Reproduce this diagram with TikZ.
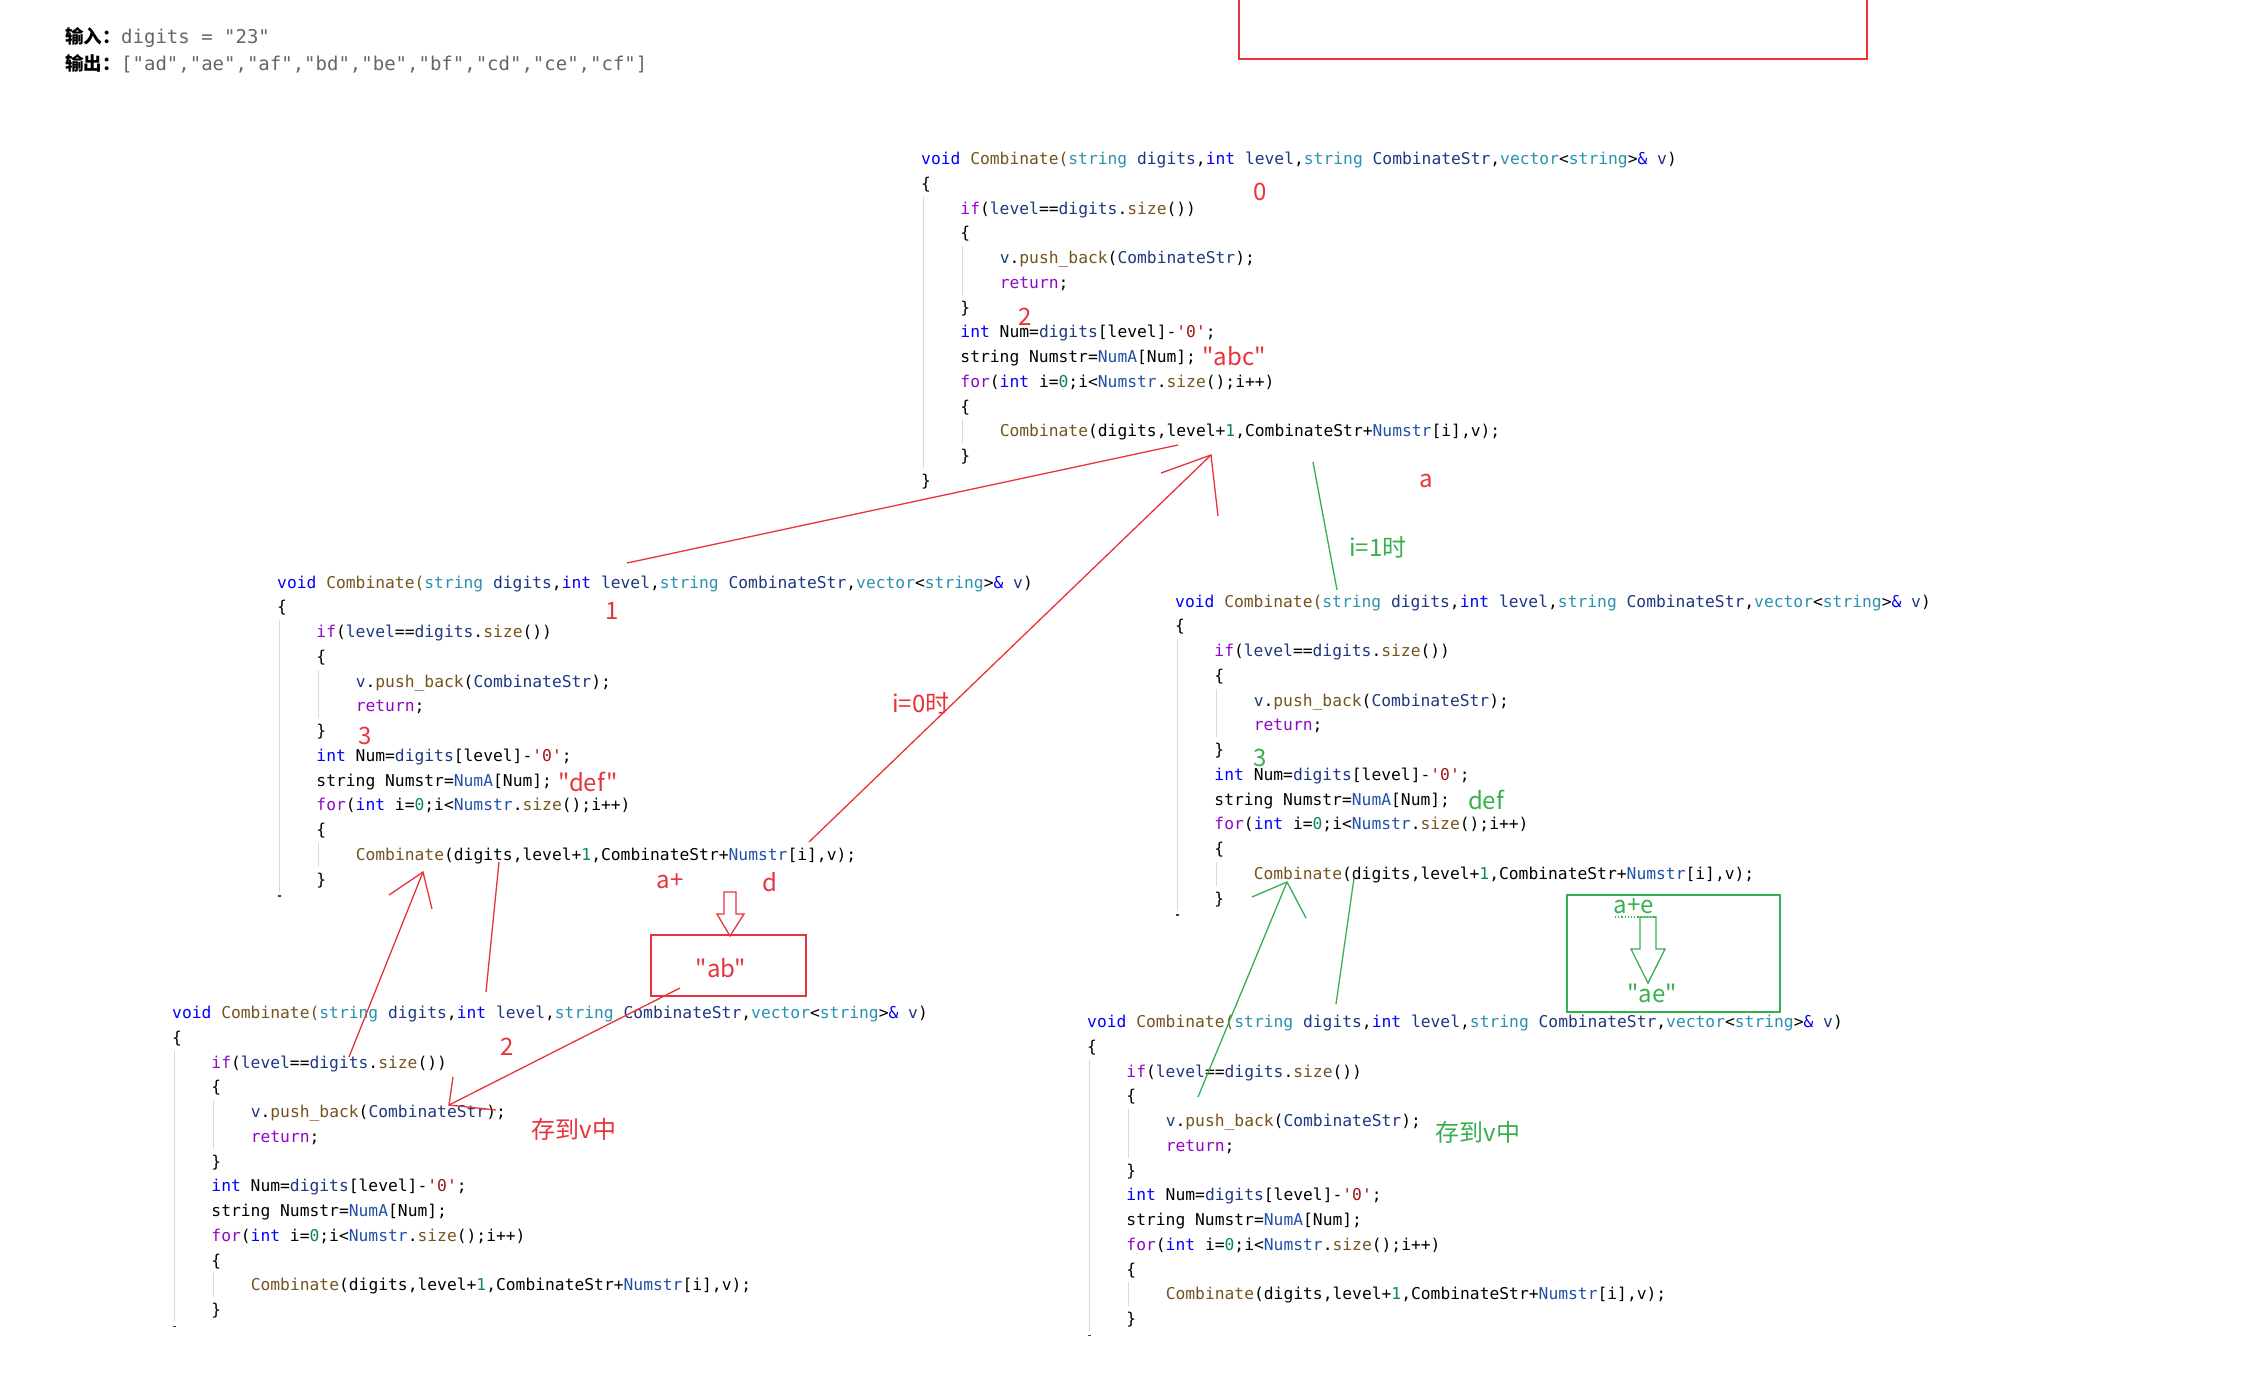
\documentclass[tikz,border=0pt]{standalone}
\usepackage{fontspec}
\setmonofont{DejaVu Sans Mono}
\newfontfamily\cjk{Noto Sans CJK SC}

\definecolor{kwblue}{HTML}{0000FF}
\definecolor{fnbrown}{HTML}{74531F}
\definecolor{tyteal}{HTML}{2B91AF}
\definecolor{parnavy}{HTML}{1F377F}
\definecolor{gvblue}{HTML}{2050A8}
\definecolor{ctlpurple}{HTML}{8F08C4}
\definecolor{strred}{HTML}{A31515}
\definecolor{numgreen}{HTML}{098658}
\definecolor{guidegray}{HTML}{D9D9D9}
\definecolor{markred}{HTML}{E8333A}
\definecolor{markgreen}{HTML}{36B04F}
\definecolor{iogray}{HTML}{666666}

% token colours
\newcommand{\cK}[1]{\textcolor{kwblue}{#1}}
\newcommand{\cF}[1]{\textcolor{fnbrown}{#1}}
\newcommand{\cT}[1]{\textcolor{tyteal}{#1}}
\newcommand{\cP}[1]{\textcolor{parnavy}{#1}}
\newcommand{\cG}[1]{\textcolor{gvblue}{#1}}
\newcommand{\cC}[1]{\textcolor{ctlpurple}{#1}}
\newcommand{\cS}[1]{\textcolor{strred}{#1}}
\newcommand{\cN}[1]{\textcolor{numgreen}{#1}}

\tikzset{
  codeline/.style={anchor=base west, inner sep=0pt, font=\ttfamily\fontsize{16.3}{20}\selectfont},
  guide/.style={draw=guidegray, line width=1pt},
  note/.style={inner sep=0pt, font=\cjk\fontsize{24}{28}\selectfont},
  rednote/.style={note, text=markred},
  greennote/.style={note, text=markgreen},
  redline/.style={draw=markred, line width=1.3pt},
  greenline/.style={draw=markgreen, line width=1.3pt},
}

% one Combinate block: name, origin (header baseline), last line
\newcommand{\codeblock}[3]{%
  \begin{scope}[shift={#2}]
    \draw[guide] (2,32) -- (2,303.5);
    \draw[guide] (41.3,81.5) -- (41.3,130.25);
    \draw[guide] (41.3,254.75) -- (41.3,278.75);
    \node[codeline] (#1-0) at (0,0) {\cK{void} \cF{Combinate(}\cT{string} \cP{digits},\cK{int} \cP{level},\cT{string} \cP{CombinateStr},\cT{vector}<\cT{string}>\cK{\&} \cP{v})};
    \node[codeline] (#1-1) at (0,24.75) {\{};
    \node[codeline] (#1-2) at (39.28,49.5) {\cC{if}(\cP{level}==\cP{digits}.\cF{size}())};
    \node[codeline] (#1-3) at (39.28,74.25) {\{};
    \node[codeline] (#1-4) at (78.56,99) {\cP{v}.\cF{push\_back}(\cP{CombinateStr});};
    \node[codeline] (#1-5) at (78.56,123.75) {\cC{return};};
    \node[codeline] (#1-6) at (39.28,148.5) {\}};
    \node[codeline] (#1-7) at (39.28,173.25) {\cK{int} Num=\cP{digits}[level]-\cS{'0'};};
    \node[codeline] (#1-8) at (39.28,198) {string Numstr=\cG{NumA}[Num];};
    \node[codeline] (#1-9) at (39.28,222.75) {\cC{for}(\cK{int} i=\cN{0};i<\cG{Numstr}.\cF{size}();i++)};
    \node[codeline] (#1-10) at (39.28,247.5) {\{};
    \node[codeline] (#1-11) at (78.56,272.25) {\cF{Combinate}(digits,level+\cN{1},CombinateStr+\cG{Numstr}[i],v);};
    \node[codeline] (#1-12) at (39.28,297) {\}};
    \node[codeline] (#1-13) at (0,321.75) {#3};
  \end{scope}}

\begin{document}
\begin{tikzpicture}[x=1pt, y=-1pt]
  \useasboundingbox[fill=white] (0,0) rectangle (2261,1395);

  % 1. input / output
  \node[anchor=base west, inner sep=0pt, font=\cjk\bfseries\fontsize{18.5}{22}\selectfont] (inlbl) at (65,43) {输入：};
  \node[anchor=base west, inner sep=0pt, font=\ttfamily\fontsize{19}{22}\selectfont, text=iogray] (intxt) at (121,43) {digits = "23"};
  \node[anchor=base west, inner sep=0pt, font=\cjk\bfseries\fontsize{18.5}{22}\selectfont] (outlbl) at (65,70) {输出：};
  \node[anchor=base west, inner sep=0pt, font=\ttfamily\fontsize{19}{22}\selectfont, text=iogray] (outtxt) at (121,70) {["ad","ae","af","bd","be","bf","cd","ce","cf"]};
  \draw[markred, line width=2pt] (1239,-5) rectangle (1867,59);

  % 2. the five calls
  \codeblock{A}{(921,164.5)}{\}}
  \codeblock{B}{(277,588)}{}
  \codeblock{C}{(1175,607)}{}
  \codeblock{D}{(172,1018.5)}{}
  \codeblock{E}{(1087,1027.5)}{}
  \foreach \bx/\by in {277/588, 1175/607, 172/1018.5, 1087/1027.5}
    \draw[black!75, line width=1.2pt] (\bx+1,\by+308) -- (\bx+4,\by+308);

  % 3. red notes: i=0
  \node[rednote] (n0) at (1260,192) {0};
  \node[rednote] (n2a) at (1025,317) {2};
  \node[rednote] (nabc) at (1234,356) {"abc"};
  \node[rednote] (na) at (1426,481) {a};
  \node[rednote] (n1) at (612,611) {1};
  \node[rednote] (n3a) at (365,736) {3};
  \node[rednote] (ndef) at (588,782) {"def"};
  \node[rednote] (ni0) at (921,703) {i=0时};
  \node[rednote] (naplus) at (670,881) {a+};
  \node[rednote] (nd) at (770,882) {d};
  \node[rednote] (n2b) at (507,1047) {2};
  \node[rednote] (nsaveA) at (574,1129) {存到v中};

  \coordinate (callA) at (1178,445);
  \coordinate (headB) at (627,563);
  \draw[redline] (callA) -- (headB);
  \coordinate (tipA) at (1211,455);
  \coordinate (tailB) at (809,842);
  \draw[redline] (tailB) -- (tipA);
  \draw[redline] (1161,473) -- (tipA) -- (1218,516);

  \coordinate (callB) at (499,862);
  \coordinate (headD) at (486,992);
  \draw[redline] (callB) -- (headD);
  \coordinate (tipB) at (423,872);
  \coordinate (tailD) at (349,1057);
  \draw[redline] (tailD) -- (tipB);
  \draw[redline] (389,895) -- (tipB) -- (432,909);

  \draw[markred, line width=1.3pt] (724,892) -- (736,892) -- (736,914) -- (744,914) -- (730,936) -- (717,914) -- (724,914) -- cycle;
  \draw[markred, line width=1.6pt] (651,935) rectangle (806,996);
  \node[rednote] (nab) at (721,968) {"ab"};
  \coordinate (abtail) at (680,988);
  \coordinate (tipD) at (449,1105);
  \draw[redline] (abtail) -- (tipD);
  \draw[redline] (453,1077) -- (tipD) -- (496,1110);

  % 4. green notes: i=1
  \node[greennote] (ni1) at (1378,547) {i=1时};
  \node[greennote] (n3b) at (1260,758) {3};
  \node[greennote] (ndefg) at (1486,800) {def};
  \node[greennote] (nae) at (1634,906) {a+e};
  \node[greennote] (naeq) at (1652,993) {"ae"};
  \node[greennote] (nsaveE) at (1478,1132) {存到v中};

  \coordinate (callA2) at (1313,462);
  \coordinate (headC) at (1337,590);
  \draw[greenline] (callA2) -- (headC);
  \coordinate (callC) at (1354,878);
  \coordinate (headE) at (1336,1004);
  \draw[greenline] (callC) -- (headE);
  \coordinate (tipC) at (1287,882);
  \coordinate (tailE) at (1198,1097);
  \draw[greenline] (tailE) -- (tipC);
  \draw[greenline] (1252,897) -- (tipC) -- (1306,918);

  \draw[markgreen, line width=1.6pt] (1567,895) rectangle (1780,1012);
  \draw[markgreen, line width=1.2pt, dotted] (1615,917) -- (1656,917);
  \draw[markgreen, line width=1.3pt] (1640,917) -- (1656,917) -- (1656,949) -- (1665,949) -- (1648,983) -- (1631,949) -- (1640,949) -- cycle;
\end{tikzpicture}
\end{document}
